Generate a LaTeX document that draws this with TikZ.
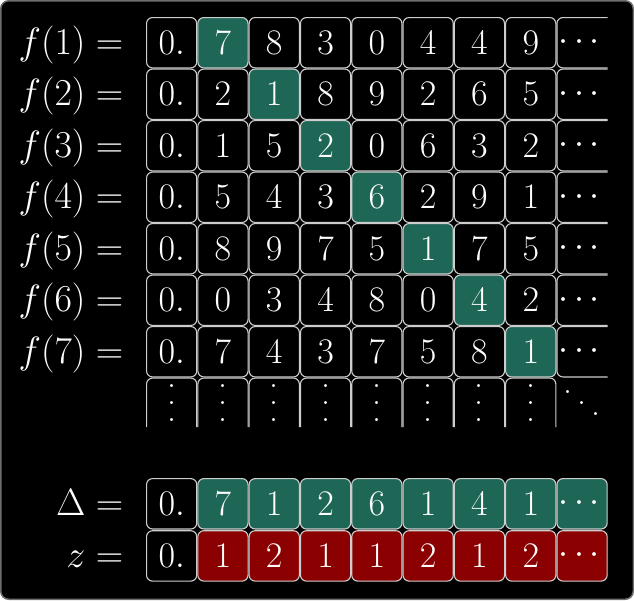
\RequirePackage{fix-cm}
\documentclass[tikz,border=0pt]{standalone}
\usepackage{amsmath}
\usetikzlibrary{positioning}
\definecolor{diaggreen}{RGB}{30,102,86}
\definecolor{flipred}{RGB}{139,0,0}
\definecolor{cellline}{RGB}{205,205,205}
\definecolor{frameline}{RGB}{110,110,110}
\newcommand\tallvdots{%
\vbox{\baselineskip=0.47em \lineskiplimit=0pt \hbox{.}\hbox{.}\hbox{.}}%
}
\newcommand\wideddots{%
\mbox{\raisebox{0.62em}{.}\hspace{0.13em}\raisebox{0.31em}{.}\hspace{0.13em}.}%
}
\tikzset{
  digitcell/.style={draw=cellline, line width=1.1pt, rounded corners=6pt, minimum width=50.2pt, minimum height=50.4pt, inner sep=0pt},
  opencell/.style={draw=cellline, line width=1.1pt, rounded corners=6pt},
  rowlabel/.style={anchor=base east, inner sep=0pt, font=\fontsize{38}{45}\selectfont}
}

\begin{document}
\begin{tikzpicture}[x=1pt, y=-1pt, every node/.style={text=white, font=\fontsize{36}{43}\selectfont}]
	%% some definitions
	\def\xo{146} % left edge of the grid
	\def\yo{17} % top edge of the grid
	\def\px{51.3} % column pitch
	\def\py{51.5} % row pitch
	\def\hw{25.1} % half cell width
	\def\hh{25.2} % half cell height
	\def\xend{607.5} % right end of the open cells
	\def\ycut{427} % lower end of the dots row
	
	\useasboundingbox (0,0) rectangle (634,600);
	\fill[black, draw=frameline, line width=1.5pt, rounded corners=8pt] (0.75,0.75) rectangle (633.25,599.25);
	
	% the list f(1), f(2), ...
	\foreach \digits [count=\row] in {{7,8,3,0,4,4,9},{2,1,8,9,2,6,5},{1,5,2,0,6,3,2},{5,4,3,6,2,9,1},{8,9,7,5,1,7,5},{0,3,4,8,0,4,2},{7,4,3,7,5,8,1}}{
		\pgfmathsetmacro\cy{\yo+\py*(\row-0.5)}
		\node[digitcell] (f\row-0) at ({\xo+0.5*\px},\cy) {$0.$};
		\node[rowlabel] (lf\row) at ([xshift=-22.5pt]f\row-0.base west) {$f(\row) =$};
		\foreach \dg [count=\col] in \digits {
			\ifnum\row=\col \def\cellfill{diaggreen}\else \def\cellfill{black}\fi
			\node[digitcell, fill=\cellfill] (f\row-\col) at ({\xo+\px*(\col+0.5)},\cy) {$\dg$};
		}
		\draw[opencell] (\xend,\cy-\hh) -| ({\xo+8*\px+0.55},\cy+\hh) -- (\xend,\cy+\hh);
		\node (f\row-8) at ({\xo+8.5*\px},\cy) {$\cdots$};
	}
	
	% the dots row
	\pgfmathsetmacro\cy{\yo+\py*7.5}
	\foreach \col in {0,...,7}{
		\draw[opencell] ({\xo+\px*(\col+0.5)-\hw},\ycut) |- ({\xo+\px*(\col+0.5)+\hw},\cy-\hh) -- ({\xo+\px*(\col+0.5)+\hw},\ycut);
		\node (v\col) at ({\xo+\px*(\col+0.5)},\cy) {\tallvdots};
	}
	\node (dd) at ({\xo+8.5*\px},\cy) {\wideddots};
	
	% the diagonal and its flip
	\node[digitcell] (delta-0) at ({\xo+0.5*\px},503.8) {$0.$};
	\node[rowlabel] (ldelta) at ([xshift=-22.5pt]delta-0.base west) {$\Delta =$};
	\foreach \dg [count=\col] in {7,1,2,6,1,4,1,\cdots}{
		\node[digitcell, fill=diaggreen] (delta-\col) at ({\xo+\px*(\col+0.5)},503.8) {$\dg$};
	}
	\node[digitcell] (z-0) at ({\xo+0.5*\px},555.9) {$0.$};
	\node[rowlabel] (lz) at ([xshift=-22.5pt]z-0.base west) {$z =$};
	\foreach \dg [count=\col] in {1,2,1,1,2,1,2,\cdots}{
		\node[digitcell, fill=flipred] (z-\col) at ({\xo+\px*(\col+0.5)},555.9) {$\dg$};
	}
	
\end{tikzpicture}
\end{document}
